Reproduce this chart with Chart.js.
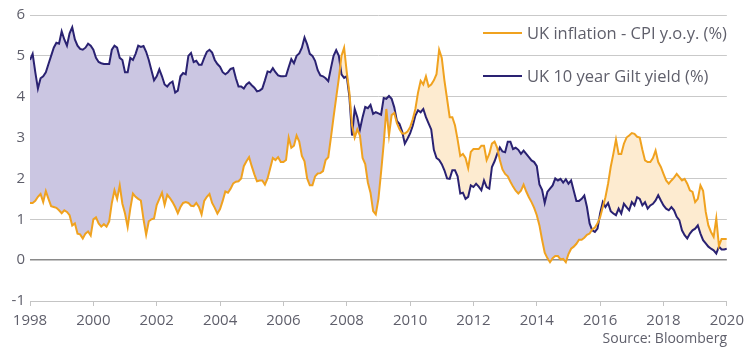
<!DOCTYPE html>
<html><head><meta charset="utf-8">
<script src="https://cdn.jsdelivr.net/npm/chart.js@4.4.1/dist/chart.umd.min.js"></script>
<style>
html,body{margin:0;padding:0;background:#fff;}
#wrap{position:relative;width:750px;height:347px;overflow:hidden;}
canvas{position:absolute;left:0;top:0;}
.txt{position:absolute;font-family:'Open Sans',sans-serif;color:#5f5f6b;white-space:nowrap;}
.ln{position:absolute;height:2px;}
</style></head>
<body>
<div id="wrap">
<canvas id="c" width="750" height="347"></canvas>
<div class="ln" style="left:483px;top:32px;width:39px;background:#f0a21f"></div>
<div class="txt" id="l1" style="left:527px;top:22px;font-size:16.5px;line-height:22px;">UK inflation - CPI y.o.y. (%)</div>
<div class="ln" style="left:483px;top:75px;width:39px;background:#2a2272"></div>
<div class="txt" id="l2" style="left:527px;top:65px;font-size:16.5px;line-height:22px;">UK 10 year Gilt yield (%)</div>
<div class="txt" style="right:23px;top:329px;font-size:14px;line-height:18px;">Source: Bloomberg</div>
</div>
<script>
const startYear = 1998;
const xTicks = [1998,2000,2002,2004,2006,2008,2010,2012,2014,2016,2018,2020];
const yTicks = [-1,0,1,2,3,4,5,6];
const seriesNames = ["UK inflation - CPI y.o.y. (%)", "UK 10 year Gilt yield (%)"];

// Monthly values from Jan 1998
const cpi = [
1.4,1.4,1.45,1.55,1.62,1.42,1.69,1.5,1.32,1.3,1.28,1.22,
1.15,1.22,1.18,1.1,0.85,0.9,0.65,0.63,0.53,0.65,0.7,0.6,
1.0,1.05,0.9,0.82,0.88,0.82,0.95,1.4,1.71,1.5,1.83,1.38,
1.14,0.81,1.26,1.63,1.55,1.5,1.46,1.0,0.62,0.95,1.0,1.02,
1.35,1.5,1.65,1.35,1.6,1.52,1.42,1.3,1.15,1.3,1.4,1.42,
1.4,1.33,1.32,1.4,1.3,1.12,1.45,1.55,1.62,1.4,1.28,1.14,
1.25,1.45,1.68,1.65,1.75,1.88,1.92,1.93,2.0,2.3,2.42,2.52,
2.3,2.1,1.93,1.95,1.95,1.85,2.0,2.25,2.5,2.45,2.52,2.4,
2.4,2.45,3.0,2.75,2.8,3.05,2.9,2.55,2.42,2.0,1.83,1.83,
2.05,2.12,2.13,2.18,2.45,2.52,3.0,3.5,3.98,4.45,5.0,5.2,
4.6,4.1,3.3,3.0,3.2,3.05,2.5,2.35,1.9,1.65,1.2,1.12,
1.5,2.15,2.85,3.7,3.05,3.55,3.6,3.35,3.2,3.1,3.1,3.15,
3.25,3.45,3.7,4.1,4.39,4.3,4.5,4.25,4.3,4.4,4.55,5.15,
4.95,4.4,3.95,3.5,3.5,3.3,2.95,2.55,2.6,2.5,2.25,2.65,
2.72,2.72,2.72,2.8,2.8,2.45,2.6,2.85,2.9,2.75,2.45,2.22,
2.11,2.05,1.92,1.8,1.7,1.63,1.7,1.85,1.68,1.54,1.42,1.28,
1.1,0.85,0.5,0.18,0.05,-0.05,0.05,0.1,0.1,0.02,0.03,-0.05,
0.15,0.28,0.33,0.4,0.5,0.5,0.55,0.62,0.65,0.75,0.8,0.9,
1.05,1.3,1.54,1.87,2.28,2.6,2.95,2.6,2.6,2.85,3.0,3.05,
3.11,3.09,3.02,3.0,2.7,2.44,2.4,2.4,2.5,2.68,2.4,2.28,
2.11,1.95,1.87,1.95,2.02,2.11,2.03,1.95,1.99,1.87,1.71,1.67,
1.42,1.5,1.83,1.7,1.18,0.85,0.69,0.57,1.02,0.35,0.52,0.52,
0.52
];
const gilt = [
4.9,5.05,4.6,4.2,4.45,4.5,4.6,4.8,5.0,5.2,5.32,5.3,
5.6,5.4,5.25,5.55,5.7,5.4,5.25,5.17,5.15,5.2,5.3,5.25,
5.15,4.95,4.85,4.82,4.8,4.8,4.8,5.15,5.25,5.2,4.95,4.9,
4.6,4.6,4.95,4.9,5.05,5.25,5.22,5.24,5.1,4.9,4.65,4.4,
4.5,4.67,4.5,4.3,4.25,4.33,4.37,4.1,4.15,4.5,4.58,4.55,
5.0,5.07,4.85,4.88,4.78,4.78,4.95,5.1,5.15,5.08,4.9,4.8,
4.73,4.6,4.55,4.6,4.68,4.7,4.45,4.25,4.25,4.2,4.3,4.35,
4.28,4.22,4.13,4.15,4.2,4.4,4.62,4.6,4.7,4.6,4.52,4.5,
4.5,4.51,4.72,4.92,4.82,5.0,5.06,5.2,5.45,5.28,5.05,5.0,
4.88,4.65,4.52,4.5,4.45,4.38,4.7,5.0,5.14,5.0,4.55,4.46,
4.5,4.0,3.05,3.7,3.5,3.2,3.5,3.75,3.72,3.8,3.58,3.62,
3.59,3.56,3.97,3.95,4.02,3.95,3.74,3.41,3.33,3.15,2.85,2.97,
3.1,3.29,3.54,3.67,3.62,3.7,3.5,3.35,3.2,2.7,2.5,2.45,
2.35,2.2,2.0,1.99,2.2,2.2,2.05,1.63,1.65,1.5,1.55,1.83,
1.79,1.87,1.8,1.71,1.95,1.79,1.75,2.28,2.42,2.6,2.76,2.66,
2.64,2.9,2.9,2.72,2.75,2.7,2.6,2.68,2.6,2.52,2.44,2.4,
2.3,1.85,1.72,1.4,1.67,1.75,1.83,2.0,1.95,1.99,1.9,1.98,
1.87,1.95,1.7,1.45,1.45,1.5,1.58,1.3,0.9,0.73,0.69,0.77,
1.15,1.42,1.3,1.4,1.2,1.14,1.1,1.26,1.14,1.38,1.3,1.22,
1.42,1.34,1.54,1.5,1.34,1.42,1.26,1.34,1.38,1.46,1.59,1.46,
1.34,1.26,1.22,1.3,1.22,1.06,0.98,0.73,0.61,0.53,0.65,0.73,
0.77,0.85,0.65,0.49,0.41,0.33,0.28,0.24,0.16,0.33,0.26,0.26,
0.28
];

const toPts = arr => arr.map((v, i) => ({x: startYear + i / 12, y: v}));

Chart.defaults.font.family = "'Open Sans', sans-serif";
Chart.defaults.font.size = 14;
Chart.defaults.color = '#5f5f6b';

new Chart(document.getElementById('c'), {
  type: 'line',
  data: {
    datasets: [
      {
        label: seriesNames[0],
        data: toPts(cpi),
        borderColor: '#f0a21f',
        borderWidth: 2,
        pointRadius: 0,
        tension: 0,
        fill: {target: 1, above: '#fdebd0', below: '#cbc6e2'}
      },
      {
        label: seriesNames[1],
        data: toPts(gilt),
        borderColor: '#2a2272',
        borderWidth: 2,
        pointRadius: 0,
        tension: 0,
        fill: false
      }
    ]
  },
  options: {
    responsive: false,
    animation: false,
    layout: {padding: {top: 15, right: 23, left: 0, bottom: 0}},
    plugins: {
      legend: {display: false},
      tooltip: {enabled: false},
      filler: {drawTime: 'beforeDatasetsDraw'}
    },
    scales: {
      x: {
        type: 'linear',
        min: xTicks[0],
        max: xTicks[xTicks.length - 1],
        afterBuildTicks: s => { s.ticks = xTicks.map(v => ({value: v})); },
        afterFit: s => { s.height = 46; },
        ticks: {
          autoSkip: false, maxRotation: 0, padding: 6,
          font: {size: 15},
          callback: v => String(v)
        },
        grid: {display: true, drawOnChartArea: false, drawTicks: true, tickLength: 5, color: '#c4c4c4'},
        border: {display: true, color: '#c4c4c4'}
      },
      y: {
        min: yTicks[0],
        max: yTicks[yTicks.length - 1],
        afterBuildTicks: s => { s.ticks = yTicks.map(v => ({value: v})); },
        afterFit: s => { s.width = 30; },
        ticks: {padding: 5, font: {size: 15}, callback: v => String(v)},
        grid: {
          drawTicks: false,
          color: c => (c.tick && c.tick.value === 0) ? '#8a8a8a' : '#c9c9c9',
          lineWidth: c => (c.tick && c.tick.value === 0) ? 1.5 : 1
        },
        border: {display: false}
      }
    }
  }
});
</script>
</body></html>
